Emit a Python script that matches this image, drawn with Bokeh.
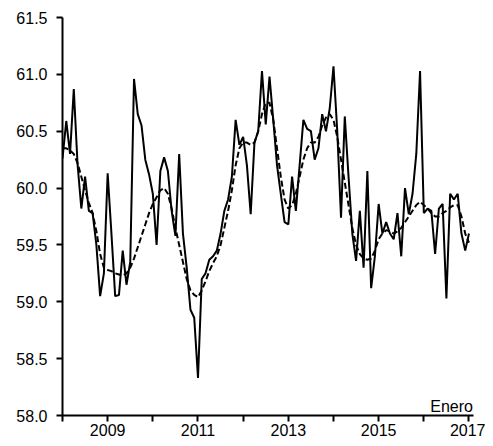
from bokeh.plotting import figure
from bokeh.models import FixedTicker, Label, ColumnDataSource, Range1d, PrintfTickFormatter
from bokeh.embed import file_html
from bokeh.resources import INLINE

# Monthly series, Jan 2008 .. Jan 2017 (109 months)
start_year = 2008
monthly = [
    60.26, 60.59, 60.30, 60.87, 60.21, 59.82, 60.10, 59.80, 59.78, 59.50, 59.05, 59.25,  # 2008
    60.13, 59.60, 59.05, 59.06, 59.45, 59.15, 59.35, 60.96, 60.65, 60.55, 60.25, 60.12,  # 2009
    59.95, 59.50, 60.15, 60.27, 60.15, 59.80, 59.58, 60.30, 59.60, 59.30, 58.93, 58.86,  # 2010
    58.33, 59.20, 59.25, 59.37, 59.40, 59.45, 59.60, 59.80, 59.90, 60.10, 60.60, 60.38,  # 2011
    60.45, 60.20, 59.77, 60.40, 60.50, 61.03, 60.56, 60.98, 60.60, 60.20, 59.95, 59.70,  # 2012
    59.68, 60.10, 59.80, 60.20, 60.60, 60.52, 60.50, 60.25, 60.35, 60.65, 60.50, 60.70,  # 2013
    61.07, 60.50, 59.74, 60.63, 60.10, 59.60, 59.36, 59.80, 59.30, 60.15, 59.12, 59.40,  # 2014
    59.86, 59.60, 59.70, 59.60, 59.55, 59.78, 59.40, 60.00, 59.77, 59.95, 60.30, 61.03,  # 2015
    59.78, 59.82, 59.80, 59.42, 59.82, 59.86, 59.03, 59.95, 59.90, 59.95, 59.60, 59.45,  # 2016
    59.60,                                                                              # 2017
]
trend = [
    60.35, 60.35, 60.33, 60.30, 60.22, 60.10, 59.98, 59.87, 59.78, 59.62, 59.42, 59.30,
    59.28, 59.27, 59.25, 59.24, 59.23, 59.25, 59.30, 59.38, 59.48, 59.58, 59.68, 59.78,
    59.86, 59.92, 59.98, 60.00, 59.95, 59.82, 59.65, 59.50, 59.35, 59.20, 59.10, 59.06,
    59.04, 59.10, 59.18, 59.27, 59.34, 59.40, 59.50, 59.65, 59.80, 59.98, 60.20, 60.35,
    60.40, 60.40, 60.38, 60.40, 60.50, 60.65, 60.75, 60.75, 60.60, 60.35, 60.10, 59.90,
    59.82, 59.85, 59.95, 60.10, 60.25, 60.35, 60.40, 60.40, 60.45, 60.55, 60.62, 60.65,
    60.60, 60.45, 60.25, 60.05, 59.85, 59.65, 59.50, 59.42, 59.38, 59.37, 59.38, 59.45,
    59.55, 59.60, 59.63, 59.62, 59.60, 59.62, 59.65, 59.70, 59.75, 59.80, 59.85, 59.88,
    59.85, 59.82, 59.78, 59.75, 59.75, 59.78, 59.80, 59.83, 59.85, 59.85, 59.75, 59.60,
    59.52,
]
year_ticks = list(range(2008, 2018))
year_labels = {y: (str(y) if y % 2 == 1 else "") for y in year_ticks}
y_ticks = [58.0, 58.5, 59.0, 59.5, 60.0, 60.5, 61.0, 61.5]
note = "Enero"

t = [start_year + i / 12 for i in range(len(monthly))]
src = ColumnDataSource(dict(t=t, v=monthly, tr=trend))

FONT = "Liberation Sans"

p = figure(width=485, height=438, output_backend="svg", toolbar_location=None,
           x_range=Range1d(2008.0, 2017.1), y_range=Range1d(58.0, 61.5),
           min_border_left=62, min_border_top=17, min_border_right=12, min_border_bottom=23)
p.outline_line_color = None
p.xgrid.visible = False
p.ygrid.visible = False
p.background_fill_color = "white"
p.border_fill_color = "white"

p.line("t", "tr", source=src, line_color="black", line_width=2, line_dash="6 3")
p.line("t", "v", source=src, line_color="black", line_width=2)

p.xaxis.ticker = FixedTicker(ticks=year_ticks)
p.xaxis.major_label_overrides = {float(k): v for k, v in year_labels.items()}
p.xaxis.minor_tick_line_color = None
p.xaxis.major_tick_out = 6
p.xaxis.major_tick_in = 0
p.xaxis.axis_line_width = 2
p.xaxis.major_tick_line_width = 2
p.xaxis.major_label_text_font = FONT
p.xaxis.major_label_text_font_size = "16px"
p.xaxis.major_label_text_color = "black"
p.xaxis.major_label_standoff = 2

p.yaxis.ticker = FixedTicker(ticks=y_ticks)
p.yaxis.formatter = PrintfTickFormatter(format="%.1f")
p.yaxis.minor_tick_line_color = None
p.yaxis.major_tick_out = 6
p.yaxis.major_tick_in = 0
p.yaxis.axis_line_width = 2
p.yaxis.major_tick_line_width = 2
p.yaxis.major_label_text_font = FONT
p.yaxis.major_label_text_font_size = "16px"
p.yaxis.major_label_text_color = "black"
p.yaxis.major_label_standoff = 9

p.add_layout(Label(x=2017.0, y=58.0, text=note, text_align="right", text_baseline="bottom",
                   x_offset=4, y_offset=1, text_font=FONT, text_font_size="16px",
                   text_color="black"))

open("out.html", "w").write(file_html(p, INLINE))
